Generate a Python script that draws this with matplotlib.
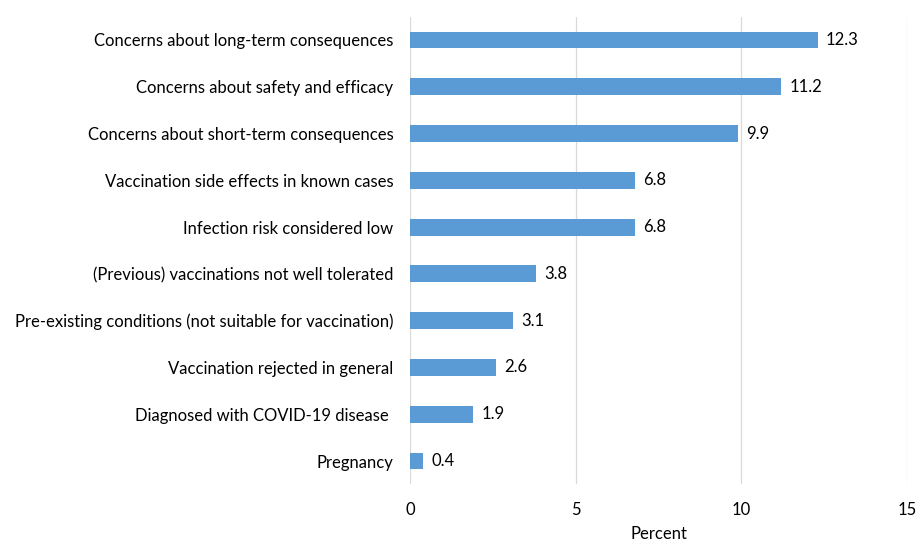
import matplotlib
matplotlib.use("Agg")
import matplotlib.pyplot as plt

categories = [
    "Concerns about long-term consequences",
    "Concerns about safety and efficacy",
    "Concerns about short-term consequences",
    "Vaccination side effects in known cases",
    "Infection risk considered low",
    "(Previous) vaccinations not well tolerated",
    "Pre-existing conditions (not suitable for vaccination)",
    "Vaccination rejected in general",
    "Diagnosed with COVID-19 disease ",
    "Pregnancy",
]
values = [12.3, 11.2, 9.9, 6.8, 6.8, 3.8, 3.1, 2.6, 1.9, 0.4]
xticks = [0, 5, 10, 15]

plt.rcParams['font.family'] = ['Lato', 'DejaVu Sans']

fig = plt.figure(figsize=(9.18, 5.41), dpi=100)
ax = fig.add_axes([0.4466, 0.1046, 0.5414, 0.8647])

ypos = list(range(len(categories)))
ax.barh(ypos, values, height=0.36, color='#5B9BD5', zorder=3)
for y, v in zip(ypos, values):
    ax.text(v + 0.25, y, f"{v}", va='center', ha='left', fontsize=12, color='#000000')

ax.set_yticks(ypos)
ax.set_yticklabels(categories, fontsize=12)
ax.set_ylim(len(categories) - 0.5, -0.5)
ax.set_xlim(0, 15)
ax.set_xticks(xticks)
ax.set_xticklabels([str(t) for t in xticks], fontsize=12)
ax.tick_params(axis='both', length=0)
ax.tick_params(axis='x', pad=13)
ax.tick_params(axis='y', pad=12)
ax.grid(axis='x', color='#D9D9D9', linewidth=0.9, zorder=0)
for s in ax.spines.values():
    s.set_visible(False)
ax.set_xlabel("Percent", fontsize=12, labelpad=5.5)

fig.savefig("out.png", dpi=100)
